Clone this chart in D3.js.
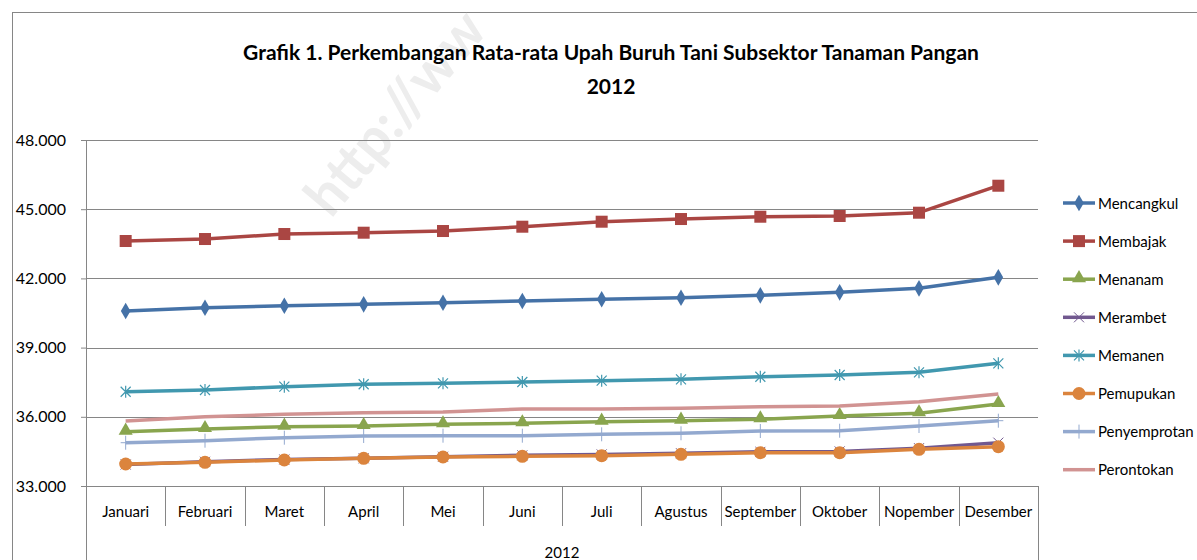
<!DOCTYPE html>
<html>
<head>
<meta charset="utf-8">
<title>Grafik 1</title>
<script src="https://d3js.org/d3.v7.min.js"></script>
<style>
  body { margin: 0; background: #fff; }
  text { font-family: Lato, "Open Sans", sans-serif; fill: #000; }
</style>
</head>
<body>
<svg id="chart" width="1197" height="560"></svg>
<script>
// data (Rupiah per hari)
var months = ["Januari", "Februari", "Maret", "April", "Mei", "Juni", "Juli", "Agustus", "September", "Oktober", "Nopember", "Desember"];
var seriesNames = ["Mencangkul", "Membajak", "Menanam", "Merambet", "Memanen", "Pemupukan", "Penyemprotan", "Perontokan"];
var mencangkul   = [40586, 40729, 40816, 40877, 40946, 41020, 41094, 41163, 41267, 41397, 41570, 42047];
var membajak     = [43621, 43707, 43924, 43981, 44054, 44241, 44458, 44574, 44674, 44705, 44848, 46018];
var menanam      = [35354, 35471, 35571, 35601, 35675, 35718, 35787, 35831, 35891, 36035, 36152, 36555];
var merambet     = [33930, 34050, 34150, 34200, 34270, 34330, 34370, 34420, 34480, 34500, 34640, 34880];
var memanen      = [37088, 37162, 37305, 37409, 37452, 37508, 37565, 37625, 37738, 37812, 37929, 38319];
var pemupukan    = [33954, 34027, 34127, 34201, 34257, 34288, 34314, 34374, 34444, 34444, 34591, 34704];
var penyemprotan = [34877, 34964, 35094, 35168, 35181, 35181, 35241, 35285, 35384, 35397, 35601, 35831];
var perontokan   = [35818, 36004, 36108, 36178, 36208, 36338, 36338, 36368, 36438, 36468, 36654, 36988];
var yTicks = [33000, 36000, 39000, 42000, 45000, 48000];
var titleLines = ["Grafik 1. Perkembangan Rata-rata Upah Buruh Tani Subsektor Tanaman Pangan", "2012"];
var groupLabel = "2012";

var allValues = [mencangkul, membajak, menanam, merambet, memanen, pemupukan, penyemprotan, perontokan];
var colors = ["#4572A7", "#AA4643", "#89A54E", "#71588F", "#4198AF", "#DB843D", "#93A9CF", "#D19392"];
var markers = ["diamond", "square", "triangle", "x", "asterisk", "circle", "plus", "none"];

var svg = d3.select("#chart");
var fmt = d3.formatLocale({ decimal: ",", thousands: ".", grouping: [3], currency: ["", ""] }).format(",");

var plotLeft = 86, plotRight = 1038, plotTop = 140, plotBottom = 486;
var x = d3.scaleBand().domain(months).range([plotLeft, plotRight]);
var y = d3.scaleLinear().domain([33000, 48000]).range([plotBottom, plotTop]);

// outer chart border (runs off the picture on the right and bottom)
svg.append("rect").attr("x", 12.5).attr("y", 12.5).attr("width", 1300).attr("height", 700)
  .attr("fill", "none").attr("stroke", "#868686").attr("stroke-width", 1);

// watermark
svg.append("text").text("http://ww")
  .attr("transform", "translate(410,125) rotate(-50)")
  .attr("text-anchor", "middle")
  .style("font-size", "56px").style("font-weight", "bold")
  .style("fill", "#ededed");

// title
svg.selectAll(".title").data(titleLines).enter().append("text")
  .attr("class", "title")
  .attr("x", 611).attr("y", function (d, i) { return 60 + i * 34; })
  .attr("text-anchor", "middle")
  .style("font-size", "21px").style("font-weight", "bold")
  .text(function (d) { return d; });

// gridlines
svg.append("g").selectAll("line").data(yTicks).enter().append("line")
  .attr("x1", plotLeft).attr("x2", plotRight)
  .attr("y1", function (d) { return Math.round(y(d)) + 0.5; })
  .attr("y2", function (d) { return Math.round(y(d)) + 0.5; })
  .attr("stroke", "#868686");

// y axis
var yAxis = svg.append("g").attr("transform", "translate(" + plotLeft + ",0)")
  .call(d3.axisLeft(y).tickValues(yTicks).tickFormat(fmt).tickSize(5).tickPadding(15));
yAxis.select(".domain").remove();
yAxis.selectAll(".tick line").attr("stroke", "#868686");
yAxis.selectAll(".tick text").style("font-size", "16px").style("font-family", "Lato, sans-serif").attr("fill", "#000");

// vertical axis line running down through the category levels
svg.append("line").attr("x1", plotLeft + 0.5).attr("x2", plotLeft + 0.5).attr("y1", plotTop).attr("y2", 560).attr("stroke", "#868686");
svg.append("line").attr("x1", plotRight + 0.5).attr("x2", plotRight + 0.5).attr("y1", plotBottom).attr("y2", 560).attr("stroke", "#868686");

// x axis: category dividers and labels
var xAxis = svg.append("g").attr("transform", "translate(0," + plotBottom + ")")
  .call(d3.axisBottom(x).tickSize(0).tickPadding(20));
xAxis.select(".domain").remove();
xAxis.selectAll(".tick text").style("font-size", "15px").style("font-family", "Lato, sans-serif").attr("fill", "#000");
svg.append("g").selectAll("line").data(months.slice(1)).enter().append("line")
  .attr("x1", function (d) { return Math.round(x(d)) + 0.5; })
  .attr("x2", function (d) { return Math.round(x(d)) + 0.5; })
  .attr("y1", plotBottom).attr("y2", 526)
  .attr("stroke", "#868686");

svg.append("text").text(groupLabel)
  .attr("x", (plotLeft + plotRight) / 2).attr("y", 558)
  .attr("text-anchor", "middle").style("font-size", "15px");

// marker drawing
function drawMarker(g, type, color, cx, cy) {
  if (type === "diamond") {
    g.append("path").attr("d", d3.symbol(d3.symbolDiamond, 80)()).attr("transform", "translate(" + cx + "," + cy + ")").attr("fill", color);
  } else if (type === "square") {
    g.append("rect").attr("x", cx - 6).attr("y", cy - 6).attr("width", 12).attr("height", 12).attr("fill", color);
  } else if (type === "triangle") {
    g.append("path").attr("d", d3.symbol(d3.symbolTriangle, 85)()).attr("transform", "translate(" + cx + "," + (cy - 1) + ")").attr("fill", color);
  } else if (type === "circle") {
    g.append("circle").attr("cx", cx).attr("cy", cy).attr("r", 6.5).attr("fill", color);
  } else if (type === "x") {
    g.append("path").attr("d", "M-5,-5L5,5M-5,5L5,-5").attr("transform", "translate(" + cx + "," + cy + ")")
      .attr("stroke", color).attr("stroke-width", 1).attr("fill", "none");
  } else if (type === "asterisk") {
    g.append("path").attr("d", "M-5,-5L5,5M-5,5L5,-5M0,-6L0,6").attr("transform", "translate(" + cx + "," + cy + ")")
      .attr("stroke", color).attr("stroke-width", 1.2).attr("fill", "none");
  } else if (type === "plus") {
    g.append("path").attr("d", "M-5,0L5,0M0,-7L0,7").attr("transform", "translate(" + cx + "," + cy + ")")
      .attr("stroke", color).attr("stroke-width", 1).attr("fill", "none");
  }
}

var line = d3.line()
  .x(function (d, i) { return x(months[i]) + x.bandwidth() / 2; })
  .y(function (d) { return y(d); });

allValues.forEach(function (vals, s) {
  var g = svg.append("g");
  g.append("path").datum(vals).attr("d", line)
    .attr("fill", "none").attr("stroke", colors[s]).attr("stroke-width", 3.5)
    .attr("stroke-linejoin", "round");
  vals.forEach(function (v, i) {
    drawMarker(g, markers[s], colors[s], x(months[i]) + x.bandwidth() / 2, y(v));
  });
});

// legend
var legend = svg.append("g");
seriesNames.forEach(function (name, s) {
  var ly = 203 + s * 38.1;
  legend.append("line").attr("x1", 1063).attr("x2", 1095).attr("y1", ly).attr("y2", ly)
    .attr("stroke", colors[s]).attr("stroke-width", 3.5);
  drawMarker(legend, markers[s], colors[s], 1079, ly);
  legend.append("text").text(name).attr("x", 1098).attr("y", ly + 5.5).style("font-size", "15px");
});
</script>
</body>
</html>
